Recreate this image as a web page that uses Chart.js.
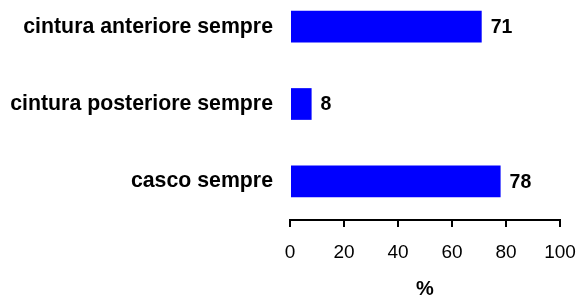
<!DOCTYPE html>
<html>
<head>
<meta charset="utf-8">
<script src="https://cdn.jsdelivr.net/npm/chart.js@4/dist/chart.umd.min.js"></script>
<style>
  html, body { margin: 0; padding: 0; background: #fff; overflow: hidden; }
  body { width: 579px; height: 295px; position: relative; }
  #wrap { position: absolute; left: 0; top: -12px; width: 579px; height: 320px; }
</style>
</head>
<body>
<div id="wrap"><canvas id="chart"></canvas></div>
<script>
const categories = ['cintura anteriore sempre', 'cintura posteriore sempre', 'casco sempre'];
const values = [71, 8, 78];
const xTicks = [0, 20, 40, 60, 80, 100];
const axisTitle = '%';

const FONT = "'Liberation Sans', Arial, sans-serif";

// etichette dei valori a destra delle barre
const valueLabels = {
    id: 'valueLabels',
    afterDatasetsDraw(chart) {
        const ctx = chart.ctx;
        const meta = chart.getDatasetMeta(0);
        ctx.save();
        ctx.font = 'bold 19.5px ' + FONT;
        ctx.fillStyle = '#000';
        ctx.textAlign = 'left';
        ctx.textBaseline = 'middle';
        meta.data.forEach((bar, i) => {
            ctx.fillText(String(values[i]), bar.x + 9, bar.y + 1);
        });
        ctx.restore();
    }
};

new Chart(document.getElementById('chart'), {
    type: 'bar',
    data: {
        labels: categories,
        datasets: [{
            data: values,
            backgroundColor: '#0000ff',
            borderWidth: 0,
            categoryPercentage: 1,
            barPercentage: 0.41
        }]
    },
    plugins: [valueLabels],
    options: {
        indexAxis: 'y',
        responsive: true,
        maintainAspectRatio: false,
        animation: false,
        layout: { padding: { top: 0, right: 19, bottom: 0, left: 0 } },
        plugins: { legend: { display: false }, tooltip: { enabled: false } },
        scales: {
            x: {
                min: 0,
                max: 100,
                afterBuildTicks: (scale) => { scale.ticks = xTicks.map(v => ({ value: v })); },
                afterFit: (scale) => {
                    scale.height = 88;
                    scale.paddingLeft = 0;
                    scale.paddingRight = 0;
                },
                border: { display: true, color: '#000', width: 2 },
                grid: { display: true, drawOnChartArea: false, drawTicks: true, tickLength: 7, color: '#000', lineWidth: 2 },
                ticks: { color: '#000', padding: 14, font: { family: FONT, size: 19 }, maxRotation: 0 },
                title: { display: true, text: axisTitle, color: '#000', font: { family: FONT, size: 20, weight: 'bold' }, padding: { top: 7, bottom: 7 } }
            },
            y: {
                afterFit: (scale) => {
                    scale.width = 290;
                    scale.paddingTop = 0;
                    scale.paddingBottom = 0;
                },
                border: { display: false },
                grid: { display: false, drawTicks: false },
                ticks: { color: '#000', padding: 17, autoSkip: false, font: { family: FONT, size: 21.3, weight: 'bold' } }
            }
        }
    }
});
</script>
</body>
</html>
